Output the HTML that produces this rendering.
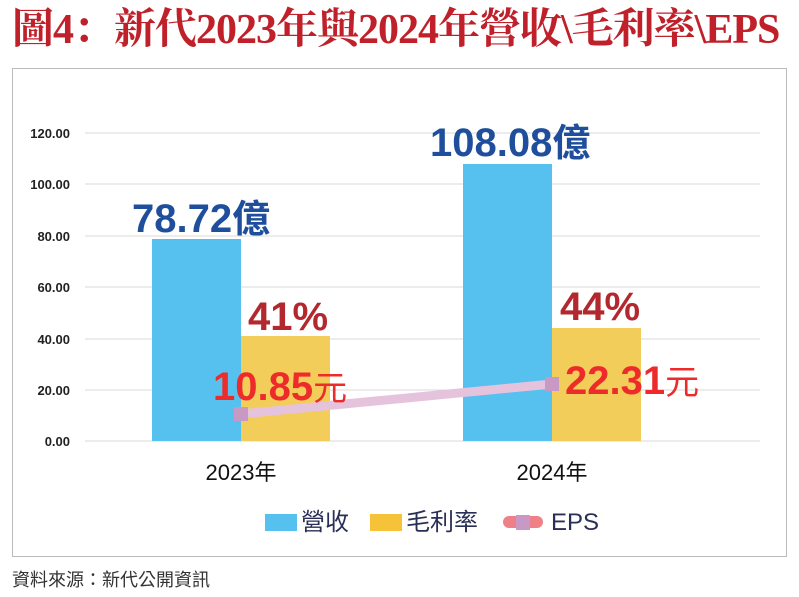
<!DOCTYPE html><html><head><meta charset="utf-8"><style>
body{margin:0;width:799px;height:597px;background:#fff;overflow:hidden;position:relative;font-family:"Liberation Sans","Noto Sans CJK TC",sans-serif}
.t{position:absolute;left:12px;top:2px;font-family:"Liberation Serif","Noto Serif CJK SC",serif;font-weight:bold;font-size:42px;line-height:56px;color:#c0202a;letter-spacing:-1px;white-space:nowrap}
.box{position:absolute;left:12px;top:68px;width:773px;height:487px;border:1.5px solid #bbb}
.src{position:absolute;left:12px;top:566px;font-size:18px;color:#333}
</style></head><body>
<div class="t">圖4：新代2023年與2024年營收\毛利率\EPS</div>
<div class="box"></div>
<svg width="799" height="597" style="position:absolute;left:0;top:0">
<g stroke="#d9d9d9" stroke-width="1">
<line x1="85" x2="760" y1="133" y2="133"/><line x1="85" x2="760" y1="184" y2="184"/><line x1="85" x2="760" y1="236" y2="236"/><line x1="85" x2="760" y1="287" y2="287"/><line x1="85" x2="760" y1="339" y2="339"/><line x1="85" x2="760" y1="390" y2="390"/><line x1="85" x2="760" y1="441" y2="441"/>
</g>
<g font-size="13" font-weight="bold" fill="#222" text-anchor="end" font-family="Liberation Sans">
<text x="70" y="138">120.00</text><text x="70" y="189">100.00</text><text x="70" y="241">80.00</text><text x="70" y="292">60.00</text><text x="70" y="344">40.00</text><text x="70" y="395">20.00</text><text x="70" y="446">0.00</text>
</g>
<rect x="152" y="239" width="89" height="202" fill="#56c0ef"/>
<rect x="241" y="336" width="89" height="105" fill="#f3cd5a"/>
<rect x="463" y="164" width="89" height="277" fill="#56c0ef"/>
<rect x="552" y="328" width="89" height="113" fill="#f3cd5a"/>
<line x1="241" y1="414" x2="552" y2="384" stroke="#e6c3dd" stroke-width="9"/>
<rect x="234" y="407" width="14" height="14" fill="#c999c6"/>
<rect x="545" y="377" width="14" height="14" fill="#c999c6"/>
<g font-weight="bold" font-family="Liberation Sans,Noto Sans CJK TC,sans-serif">
<text x="132" y="232" font-size="40" fill="#1f4e9c">78.72<tspan font-size="38">億</tspan></text>
<text x="430" y="156" font-size="40" fill="#1f4e9c">108.08<tspan font-size="38">億</tspan></text>
<text x="248" y="330" font-size="40" fill="#b3282e">41%</text>
<text x="560" y="320" font-size="40" fill="#b3282e">44%</text>
<text x="213" y="400" font-size="40" fill="#ee2b2b">10.85<tspan font-size="34" font-weight="normal">元</tspan></text>
<text x="565" y="394" font-size="40" fill="#ee2b2b">22.31<tspan font-size="34" font-weight="normal">元</tspan></text>
</g>
<g font-size="22" fill="#111" text-anchor="middle">
<text x="241" y="480">2023年</text><text x="552" y="480">2024年</text>
</g>
<rect x="265" y="514" width="32" height="17" fill="#56c0ef"/>
<text x="301" y="530" font-size="24" fill="#2a2f55">營收</text>
<rect x="370" y="514" width="32" height="17" fill="#f5c23a"/>
<text x="406" y="530" font-size="24" fill="#2a2f55">毛利率</text>
<line x1="509" y1="522" x2="537" y2="522" stroke="#f08088" stroke-width="12" stroke-linecap="round"/>
<rect x="516" y="515" width="14" height="15" fill="#c999c6"/>
<text x="551" y="530" font-size="24" fill="#2a2f55">EPS</text>
</svg>
<div class="src">資料來源：新代公開資訊</div>
</body></html>
